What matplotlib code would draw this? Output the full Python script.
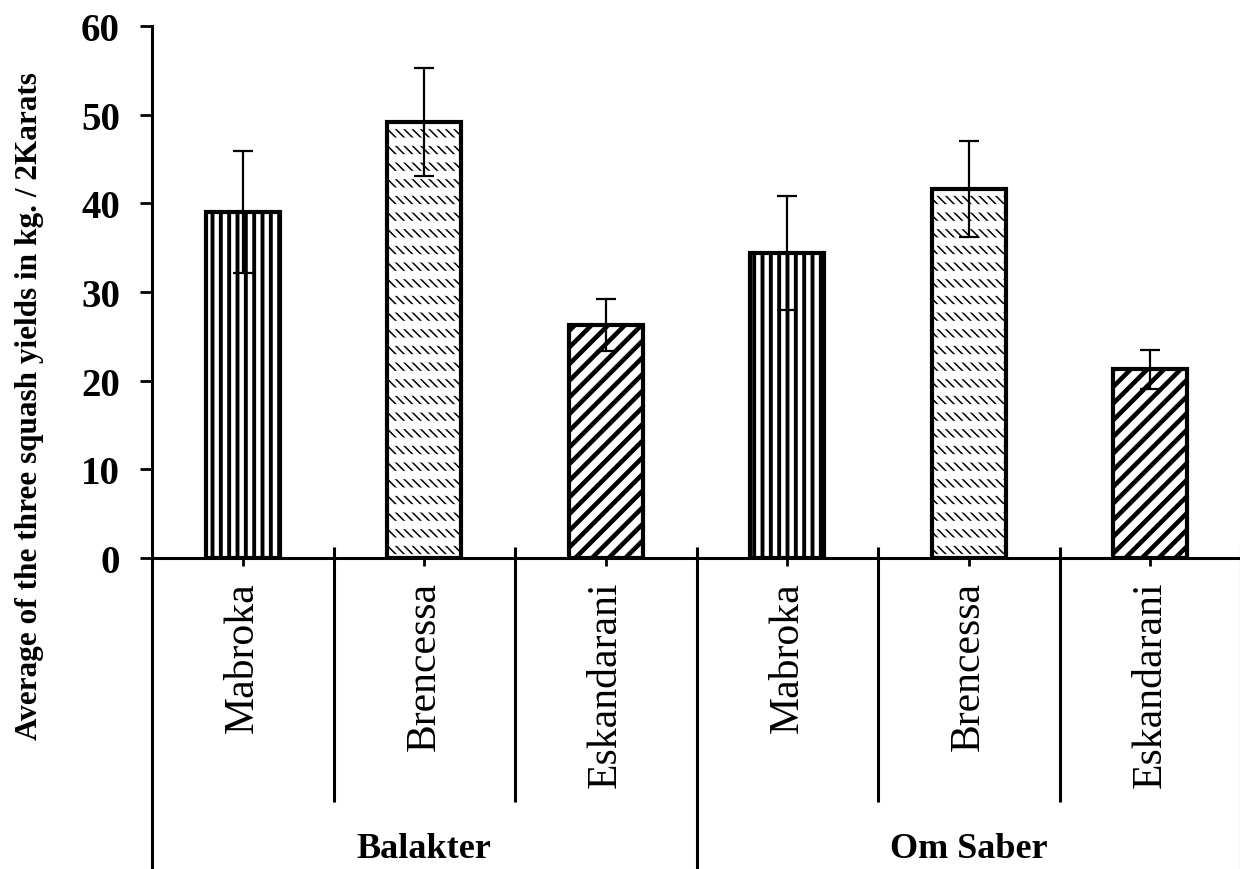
import matplotlib
matplotlib.use("Agg")
import matplotlib.pyplot as plt
import matplotlib.transforms as mtransforms
import numpy as np

# ---- data ----
groups = ["Balakter", "Om Saber"]
varieties = ["Mabroka", "Brencessa", "Eskandarani"]
balakter_vals = [39.0, 49.2, 26.3]
balakter_err = [6.9, 6.1, 2.9]
omsaber_vals = [34.4, 41.6, 21.3]
omsaber_err = [6.4, 5.4, 2.2]
yticks = [0, 10, 20, 30, 40, 50, 60]
ylabel = "Average of the three squash yields in kg. / 2Karats"

plt.rcParams['font.family'] = ['Liberation Serif', 'DejaVu Serif']

fig = plt.figure(figsize=(12.4, 8.7), dpi=100)
W, H = 1240, 870
ax_left, ax_right, ax_top, ax_bot = 152, 1241, 27, 559
ax = fig.add_axes([ax_left / W, 1 - ax_bot / H, (ax_right - ax_left) / W, (ax_bot - ax_top) / H])

vals = balakter_vals + omsaber_vals
errs = balakter_err + omsaber_err
cats = varieties * len(groups)
x = np.arange(len(vals))
bw = 0.41

hatch_for = {"Mabroka": "||", "Brencessa": "\\\\\\\\", "Eskandarani": "//"}
hlw_for = {"Mabroka": 2.8, "Brencessa": 1.1, "Eskandarani": 3.3}


def set_hlw(patch, lw):
    if hasattr(patch, "set_hatch_linewidth"):
        patch.set_hatch_linewidth(lw)


for xi, v, c in zip(x, vals, cats):
    with plt.rc_context({'hatch.linewidth': hlw_for[c]}):
        b = ax.bar(xi, v, width=bw, facecolor='white', edgecolor='black',
                   hatch=hatch_for[c], linewidth=0, zorder=2)
    set_hlw(b[0], hlw_for[c])
    if c == "Brencessa":
        with plt.rc_context({'hatch.linewidth': 6.0}):
            b2 = ax.bar(xi, v, width=bw, fill=False, edgecolor='white',
                        hatch='-', linewidth=0, zorder=2.1)
        set_hlw(b2[0], 6.0)
    ax.bar(xi, v, width=bw, fill=False, edgecolor='black', linewidth=3.0, zorder=2.5)

ax.errorbar(x, vals, yerr=errs, fmt='none', ecolor='black', elinewidth=1.6,
            capsize=7, capthick=1.6, zorder=4)

ax.set_ylim(0, 60)
ax.set_xlim(-0.5, len(vals) - 0.5)
ax.set_yticks(yticks)
ax.set_yticklabels([str(t) for t in yticks], fontsize=28, fontweight='bold')
ax.tick_params(axis='y', direction='out', length=9, width=2, pad=14)
ax.set_xticks([])
for s in ['top', 'right']:
    ax.spines[s].set_visible(False)
ax.spines['left'].set_linewidth(2.2)
ax.spines['bottom'].set_linewidth(2.2)

trans = mtransforms.blended_transform_factory(ax.transData, ax.transAxes)
axh = ax_bot - ax_top
up = 11 / axh
inner_bottom = -(803 - ax_bot) / axh
outer_bottom = -(H - ax_bot) / axh
n_var = len(varieties)

# category boundaries (multi-level axis)
for i in range(len(vals) + 1):
    xb = i - 0.5
    if i % n_var == 0:
        ax.plot([xb, xb], [0 if i == 0 else up, outer_bottom], transform=trans,
                color='black', lw=2.2, clip_on=False, solid_capstyle='butt')
    else:
        ax.plot([xb, xb], [up, inner_bottom], transform=trans,
                color='black', lw=2.2, clip_on=False, solid_capstyle='butt')

# center ticks and variety labels
for xi, c in zip(x, cats):
    ax.plot([xi, xi], [0, -8 / axh], transform=trans, color='black', lw=2.0,
            clip_on=False, solid_capstyle='butt')
    ax.text(xi, -(582 - ax_bot) / axh, c, transform=trans, rotation=90,
            ha='center', va='top', fontsize=30)

# group labels
for gi, g in enumerate(groups):
    xc = gi * n_var + (n_var - 1) / 2
    ax.text(xc, -(850 - ax_bot) / axh, g, transform=trans, ha='center',
            va='center', fontsize=26, fontweight='bold')

fig.text(30 / W, 1 - 406 / H, ylabel, rotation=90, ha='center', va='center',
         fontsize=22.5, fontweight='bold')

fig.savefig("out.png", dpi=100)
